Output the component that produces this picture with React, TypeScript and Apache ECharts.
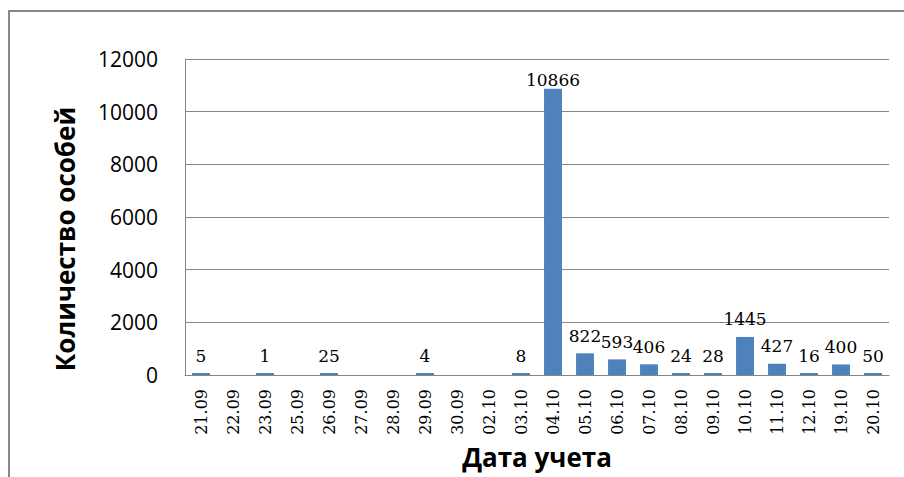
import React, { useEffect, useRef } from "react";
import * as echarts from "echarts";

const categories = [
  "21.09", "22.09", "23.09", "25.09", "26.09", "27.09", "28.09", "29.09",
  "30.09", "02.10", "03.10", "04.10", "05.10", "06.10", "07.10", "08.10",
  "09.10", "10.10", "11.10", "12.10", "19.10", "20.10",
];
const counts: (number | null)[] = [
  5, null, 1, null, 25, null, null, 4,
  null, null, 8, 10866, 822, 593, 406, 24,
  28, 1445, 427, 16, 400, 50,
];
const yTitle = "Количество особей";
const xTitle = "Дата учета";

export default function App() {
  const ref = useRef<HTMLDivElement>(null);
  useEffect(() => {
    if (!ref.current) return;
    const chart = echarts.init(ref.current, null, { renderer: "svg" });
    const maxVal = Math.max(...(counts.filter((v) => v != null) as number[]));
    const data = counts.map((v) =>
      v === maxVal ? { value: v, label: { distance: 0 } } : v
    );
    chart.setOption({
      animation: false,
      backgroundColor: "#ffffff",
      grid: { left: 185, right: 15, top: 59, bottom: 102, containLabel: false },
      xAxis: {
        type: "category",
        data: categories,
        axisLine: { show: true, lineStyle: { color: "#868686", width: 1 } },
        axisTick: { show: false },
        axisLabel: {
          rotate: 90,
          margin: 14,
          fontFamily: "DejaVu Serif",
          fontSize: 16,
          color: "#000",
          interval: 0,
        },
      },
      yAxis: {
        type: "value",
        min: 0,
        max: 12000,
        interval: 2000,
        axisLine: { show: true, lineStyle: { color: "#868686", width: 1 } },
        axisTick: { show: false },
        splitLine: { show: true, lineStyle: { color: "#868686", width: 1 } },
        axisLabel: {
          margin: 27,
          fontFamily: "Open Sans",
          fontSize: 21,
          color: "#000",
          formatter: (v: number) => String(v),
        },
      },
      series: [
        {
          type: "bar",
          data,
          barCategoryGap: "44%",
          barMinHeight: 2,
          itemStyle: { color: "#4F81BD" },
          label: {
            show: true,
            position: "top",
            distance: 9,
            fontFamily: "DejaVu Serif",
            fontSize: 17,
            color: "#000",
          },
        },
      ],
      graphic: [
        {
          type: "rect",
          shape: { x: 9, y: 11, width: 1000, height: 1000 },
          style: { fill: "none", stroke: "#888888", lineWidth: 2 },
          silent: true,
        },
        {
          type: "text",
          x: 65,
          y: 239,
          rotation: Math.PI / 2,
          style: {
            text: yTitle,
            fontFamily: "Open Sans",
            fontWeight: "bold",
            fontSize: 26,
            fill: "#000",
            align: "center",
            verticalAlign: "middle",
          },
        },
        {
          type: "text",
          x: 537,
          y: 457,
          style: {
            text: xTitle,
            fontFamily: "Open Sans",
            fontWeight: "bold",
            fontSize: 26,
            fill: "#000",
            align: "center",
            verticalAlign: "middle",
          },
        },
      ],
    });
    return () => chart.dispose();
  }, []);
  return (
    <div
      ref={ref}
      style={{ position: "fixed", left: 0, top: 0, width: 904, height: 477 }}
    />
  );
}
